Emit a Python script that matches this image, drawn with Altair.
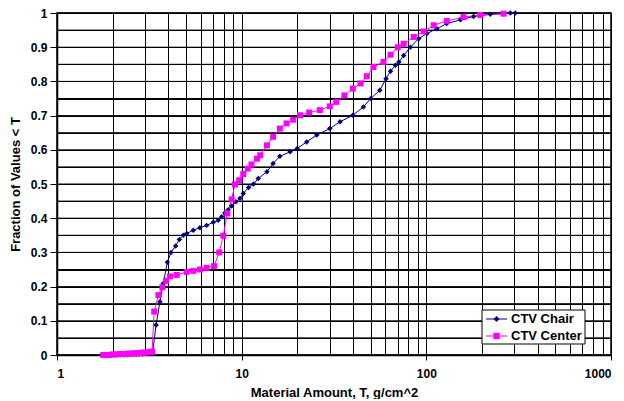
import altair as alt
import pandas as pd

# ---- data ----
chair_T = [2.02, 2.1, 2.2, 2.3, 2.4, 2.5, 2.6, 2.7, 2.8, 2.9, 3.0, 3.1, 3.3, 3.44, 3.61, 3.76, 3.96,
           4.14, 4.39, 4.6, 4.83, 5.04, 5.47, 5.94, 6.46, 7.02, 7.47, 7.79, 8.12, 8.46, 8.83, 9.31,
           9.79, 10.2, 10.9, 11.6, 12.3, 13.7, 14.8, 16.1, 18.3, 20.0, 22.5, 25.5, 30.0, 34.1, 40.0,
           45.6, 50.0, 56.0, 60.5, 64.0, 68.0, 71.0, 75.4, 81.9, 90.9, 100.8, 114, 129, 153, 180,
           222, 262, 285, 303]
chair_F = [0.0, 0.0, 0.001, 0.001, 0.001, 0.002, 0.002, 0.002, 0.003, 0.003, 0.004, 0.005, 0.01,
           0.088, 0.156, 0.209, 0.271, 0.30, 0.319, 0.338, 0.35, 0.355, 0.365, 0.372, 0.379, 0.388,
           0.394, 0.404, 0.416, 0.425, 0.436, 0.448, 0.458, 0.472, 0.49, 0.50, 0.516, 0.536, 0.56,
           0.581, 0.594, 0.604, 0.623, 0.643, 0.662, 0.682, 0.701, 0.725, 0.75, 0.774, 0.808, 0.83,
           0.847, 0.857, 0.876, 0.90, 0.925, 0.94, 0.954, 0.969, 0.98, 0.99, 0.996, 0.998, 1.0, 1.0]

center_T = [1.78, 1.85, 1.92, 2.0, 2.1, 2.2, 2.3, 2.4, 2.5, 2.6, 2.7, 2.8, 2.9, 3.0, 3.1, 3.2, 3.27,
            3.36, 3.54, 3.72, 3.89, 4.09, 4.45, 5.04, 5.47, 5.94, 6.46, 7.08, 7.56, 7.95, 8.36, 8.83,
            9.2, 9.7, 10.2, 10.8, 11.3, 12.1, 12.6, 13.7, 14.8, 16.1, 17.5, 19.0, 20.7, 23.2, 26.5,
            30.0, 32.5, 36.0, 40.0, 44.0, 47.6, 51.7, 58.6, 64.0, 70.0, 75.4, 85.4, 96.7, 109.6,
            129, 159, 196, 262]
center_F = [0.0, 0.0, 0.0, 0.002, 0.002, 0.003, 0.003, 0.004, 0.004, 0.005, 0.005, 0.006, 0.007,
            0.007, 0.008, 0.009, 0.01, 0.127, 0.175, 0.198, 0.217, 0.23, 0.234, 0.243, 0.246, 0.25,
            0.255, 0.26, 0.30, 0.349, 0.414, 0.455, 0.499, 0.511, 0.529, 0.545, 0.557, 0.574, 0.584,
            0.613, 0.638, 0.662, 0.677, 0.688, 0.701, 0.709, 0.716, 0.727, 0.74, 0.759, 0.779, 0.794,
            0.815, 0.842, 0.857, 0.878, 0.90, 0.91, 0.93, 0.946, 0.964, 0.977, 0.988, 0.994, 0.998]

series_names = ["CTV Chair", "CTV Center"]
series_colors = ["#000080", "#FF00FF"]
series_shapes = ["diamond", "square"]
series_sizes = [30, 36]

x_grid = [m * 10 ** k for k in range(3) for m in range(1, 10)] + [1000]
y_grid = [round(i * 0.05, 2) for i in range(21)]

df = pd.concat([
    pd.DataFrame({"T": chair_T, "F": chair_F, "series": series_names[0]}),
    pd.DataFrame({"T": center_T, "F": center_F, "series": series_names[1]}),
])

FONT = "Liberation Sans"
W, H = 554, 342

x_scale = alt.Scale(type="log", domain=[1, 1000], nice=False)
y_scale = alt.Scale(domain=[0, 1], nice=False)

x_axis = alt.Axis(values=x_grid, labelOverlap=False,
                  labelExpr="indexof([1,10,100,1000], datum.value) >= 0 ? format(datum.value, 'd') : ''",
                  tickOpacity={"condition": {"test": "indexof([1,10,100,1000], datum.value) >= 0", "value": 1}, "value": 0},
                  title="Material Amount, T, g/cm^2",
                  labelPadding=8, titlePadding=7, tickSize=5)
y_axis = alt.Axis(values=y_grid, labelOverlap=False, grid=True,
                  labelExpr="round(datum.value*20) % 2 == 0 ? format(datum.value, '.1~f') : ''",
                  tickOpacity={"condition": {"test": "round(datum.value*20) % 2 == 0", "value": 1}, "value": 0},
                  title="Fraction of Values < T",
                  labelPadding=3, titlePadding=8, tickSize=7)

color_enc = alt.Color("series:N", scale=alt.Scale(domain=series_names, range=series_colors), legend=None)

# horizontal grid lines every 0.05 (Excel major gridlines)
hgrid = alt.Chart(pd.DataFrame({"g": y_grid})).mark_rule(color="black", strokeWidth=1).encode(
    y=alt.Y("g:Q", scale=y_scale, axis=y_axis))

lines = alt.Chart(df).mark_line(strokeWidth=1).encode(
    x=alt.X("T:Q", scale=x_scale, axis=x_axis),
    y=alt.Y("F:Q", scale=y_scale, axis=y_axis),
    color=color_enc, detail="series:N")
points = alt.Chart(df).mark_point(filled=True, opacity=1).encode(
    x=alt.X("T:Q", scale=x_scale, axis=x_axis),
    y=alt.Y("F:Q", scale=y_scale, axis=y_axis),
    color=color_enc,
    shape=alt.Shape("series:N", scale=alt.Scale(domain=series_names, range=series_shapes), legend=None),
    size=alt.Size("series:N", scale=alt.Scale(domain=series_names, range=series_sizes), legend=None))

# ---- manual legend (Excel style box inside the plot) ----
one = pd.DataFrame({"a": [0]})
box = alt.Chart(one).mark_rect(fill="white", stroke="black", strokeWidth=1).encode(
    x=alt.value(425), x2=alt.value(528), y=alt.value(297), y2=alt.value(331))
leg_layers = [box]
for i, (name, col, shp, sz) in enumerate(zip(series_names, series_colors, series_shapes, series_sizes)):
    yy = 306 + i * 17
    leg_layers.append(alt.Chart(one).mark_rule(color=col, strokeWidth=1).encode(
        x=alt.value(429), x2=alt.value(450), y=alt.value(yy)))
    leg_layers.append(alt.Chart(one).mark_point(filled=True, opacity=1, color=col, shape=shp, size=sz + 6).encode(
        x=alt.value(439.5), y=alt.value(yy)))
    leg_layers.append(alt.Chart(one).mark_text(text=name, align="left", baseline="middle", font=FONT,
                                                fontSize=13, fontWeight="bold", color="black").encode(
        x=alt.value(454), y=alt.value(yy)))

chart = alt.layer(hgrid, lines, points, *leg_layers).properties(
    width=W, height=H,
    autosize=alt.AutoSizeParams(type="none"),
    padding={"left": 49, "top": 5, "right": 5, "bottom": 44},
    background="white",
).configure_view(stroke="black", strokeWidth=1.5).configure_axis(
    grid=True, gridColor="black", gridOpacity=1, gridWidth=1,
    domainColor="black", domainWidth=1.5, tickColor="black",
    labelFont=FONT, labelFontSize=12, labelFontWeight="bold", labelColor="black",
    titleFont=FONT, titleFontSize=13, titleFontWeight="bold", titleColor="black",
)

chart.save("out.html", embed_options={"renderer": "svg", "actions": False})
